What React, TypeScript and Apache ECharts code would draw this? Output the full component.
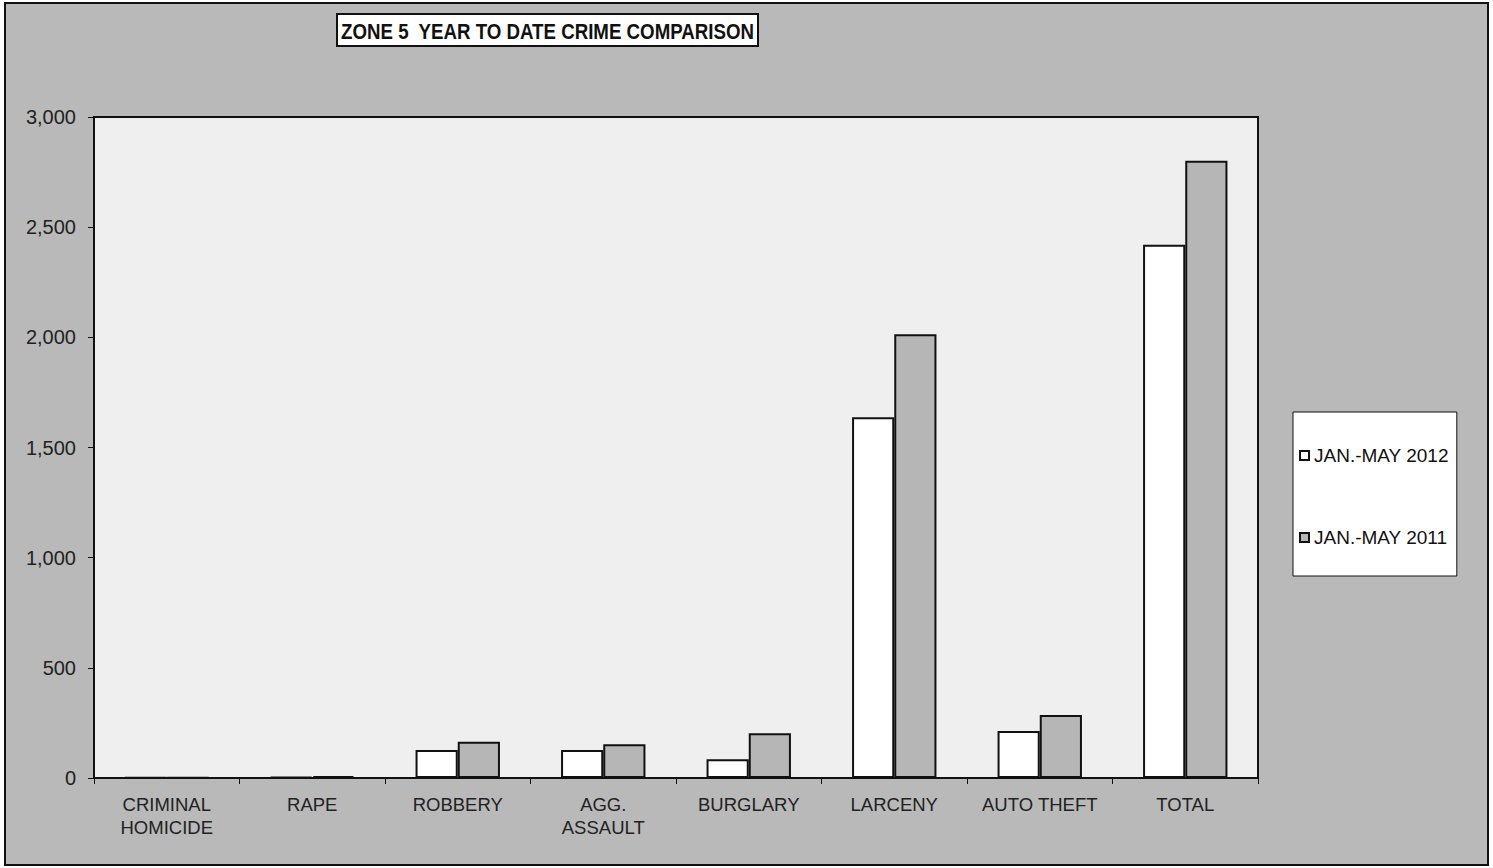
import React, { useEffect, useRef } from "react";
import * as echarts from "echarts";

const categories = [
  "CRIMINAL\nHOMICIDE",
  "RAPE",
  "ROBBERY",
  "AGG.\nASSAULT",
  "BURGLARY",
  "LARCENY",
  "AUTO THEFT",
  "TOTAL",
];
const series2012Name = "JAN.-MAY 2012";
const series2011Name = "JAN.-MAY 2011";
const values2012 = [3, 5, 127, 127, 85, 1637, 213, 2420];
const values2011 = [2, 9, 165, 153, 203, 2014, 286, 2801];
const yTicks = { min: 0, max: 3000, interval: 500 };
const titleText = "ZONE 5  YEAR TO DATE CRIME COMPARISON";

const FONT = "'Liberation Sans', Arial, sans-serif";

export default function App() {
  const ref = useRef<HTMLDivElement>(null);
  useEffect(() => {
    if (!ref.current) return;
    const chart = echarts.init(ref.current, undefined, { renderer: "svg" });
    chart.setOption({
      animation: false,
      backgroundColor: "#ffffff",
      textStyle: { fontFamily: FONT },
      graphic: [
        {
          type: "rect",
          z: -100,
          shape: { x: 5, y: 3, width: 1483, height: 862 },
          style: { fill: "#b9b9b9", stroke: "#111", lineWidth: 2 },
        },
        {
          type: "rect",
          z: 10,
          shape: { x: 337, y: 14, width: 421, height: 32 },
          style: { fill: "#ffffff", stroke: "#111", lineWidth: 2 },
        },
        {
          type: "text",
          z: 11,
          x: 547.5,
          y: 31,
          scaleX: 0.85,
          style: {
            text: titleText,
            fontFamily: FONT,
            fontSize: 22,
            fontWeight: "bold",
            fill: "#111",
            align: "center",
            verticalAlign: "middle",
          },
        },
      ],
      legend: {
        orient: "vertical",
        left: 1293,
        top: 412,
        padding: [34, 8, 29, 6],
        itemGap: 63,
        itemWidth: 9,
        itemHeight: 9,
        icon: "rect",
        backgroundColor: "#ffffff",
        borderColor: "#111",
        borderWidth: 1,
        textStyle: { fontFamily: FONT, fontSize: 19, color: "#111" },
        data: [series2012Name, series2011Name],
      },
      grid: {
        left: 94,
        top: 117,
        right: 235,
        bottom: 90,
        show: true,
        backgroundColor: "#efefef",
        borderColor: "#111",
        borderWidth: 2,
      },
      xAxis: {
        type: "category",
        data: categories,
        axisLine: { lineStyle: { color: "#111", width: 2 } },
        axisTick: { show: true, length: 6, interval: 0, lineStyle: { color: "#111" } },
        axisLabel: {
          interval: 0,
          fontFamily: FONT,
          fontSize: 18.5,
          lineHeight: 23,
          color: "#222",
          margin: 15,
        },
      },
      yAxis: {
        type: "value",
        min: yTicks.min,
        max: yTicks.max,
        interval: yTicks.interval,
        splitLine: { show: false },
        axisLine: { show: true, lineStyle: { color: "#111", width: 2 } },
        axisTick: { show: true, length: 6, lineStyle: { color: "#111" } },
        axisLabel: {
          fontFamily: FONT,
          fontSize: 20,
          color: "#222",
          margin: 18,
          formatter: (v: number) => v.toLocaleString("en-US"),
        },
      },
      series: [
        {
          name: series2012Name,
          type: "bar",
          data: values2012,
          barWidth: "29%",
          barGap: "0%",
          itemStyle: { color: "#ffffff", borderColor: "#111", borderWidth: 2 },
        },
        {
          name: series2011Name,
          type: "bar",
          data: values2011,
          barWidth: "29%",
          barGap: "0%",
          itemStyle: { color: "#b6b6b6", borderColor: "#111", borderWidth: 2 },
        },
      ],
    });
    return () => chart.dispose();
  }, []);
  return (
    <div
      ref={ref}
      style={{ position: "fixed", left: 0, top: 0, width: 1493, height: 868 }}
    />
  );
}
